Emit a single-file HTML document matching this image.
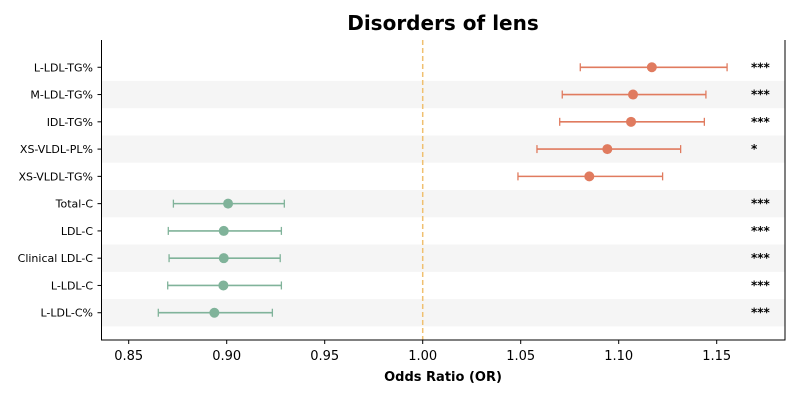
<!DOCTYPE html>
<html><head><meta charset="utf-8"><style>
body{margin:0;background:#fff;font-family:"Liberation Sans","DejaVu Sans",sans-serif}
svg text{font-family:"DejaVu Sans","Liberation Sans",sans-serif}
</style></head><body>
<svg id="chart" width="800" height="400" xmlns="http://www.w3.org/2000/svg">
<text x="443" y="30" text-anchor="middle" font-size="20" font-weight="bold" font-family="Liberation Sans, sans-serif">Disorders of lens</text>
<g id="bands"></g><g id="marks"></g><g id="axes"></g>
<text x="443" y="381" text-anchor="middle" font-size="13" font-weight="bold">Odds Ratio (OR)</text>
</svg>
<script>
const categories=["L-LDL-TG%","M-LDL-TG%","IDL-TG%","XS-VLDL-PL%","XS-VLDL-TG%","Total-C","LDL-C","Clinical LDL-C","L-LDL-C","L-LDL-C%"];
const orValues=[1.1169,1.1073,1.1063,1.0942,1.0850,0.9007,0.8985,0.8985,0.8983,0.8937];
const ciLow=[1.0804,1.0712,1.0699,1.0583,1.0486,0.8728,0.8702,0.8706,0.8699,0.8651];
const ciHigh=[1.1553,1.1445,1.1437,1.1316,1.1224,0.9294,0.9279,0.9273,0.9279,0.9233];
const stars=["***","***","***","*","","***","***","***","***","***"];
const xTicks=[0.85,0.90,0.95,1.00,1.05,1.10,1.15];
const xTickLabels=["0.85","0.90","0.95","1.00","1.05","1.10","1.15"];
const refValue=1.0;
const NS="http://www.w3.org/2000/svg";
const L=101.5,R=785,T=40,B=340;
const x=v=>128.7+(v-0.85)*1960;
const y=i=>T+(B-T)*(i+1)/(categories.length+1);
const step=(B-T)/(categories.length+1);
function mk(t,a,p){const e=document.createElementNS(NS,t);for(const k in a)e.setAttribute(k,a[k]);(p||document.getElementById('chart')).appendChild(e);return e;}
const bands=document.getElementById('bands'),marks=document.getElementById('marks'),axes=document.getElementById('axes');
categories.forEach((c,i)=>{
 if(i%2==1){const b=mk('rect',{x:L,y:y(i)-step/2,width:R-L,height:step,fill:'#f5f5f5'},bands);
 
 }
});
const rl=mk('line',{x1:x(refValue),x2:x(refValue),y1:T,y2:B,stroke:'#f0c070','stroke-width':1.5,'stroke-dasharray':'5,3'},marks);


categories.forEach((c,i)=>{
 const col=orValues[i]>1?'#e07b5f':'#80b39a';const yy=y(i);
 const g=mk('g',{},marks);
 
 
 mk('line',{x1:x(ciLow[i]),x2:x(ciHigh[i]),y1:yy,y2:yy,stroke:col,'stroke-width':1.6},g);
 mk('line',{x1:x(ciLow[i]),x2:x(ciLow[i]),y1:yy-4,y2:yy+4,stroke:col,'stroke-width':1.3},g);
 mk('line',{x1:x(ciHigh[i]),x2:x(ciHigh[i]),y1:yy-4,y2:yy+4,stroke:col,'stroke-width':1.3},g);
 mk('circle',{cx:x(orValues[i]),cy:yy,r:5,fill:col},g);
 if(stars[i]){const s=mk('text',{x:751,y:yy+4,'font-size':12,'font-weight':'bold'},marks);s.textContent=stars[i];
 
 }
 const t=mk('text',{x:93,y:yy+4,'text-anchor':'end','font-size':11},axes);t.textContent=c;
 
 
 mk('line',{x1:L-4,x2:L,y1:yy,y2:yy,stroke:'#000','stroke-width':1},axes);
});
const ax=mk('path',{d:`M${L},${T}V${B}H${R}V${T}`,fill:'none',stroke:'#000','stroke-width':1},axes);


xTicks.forEach((v,i)=>{
 mk('line',{x1:x(v),x2:x(v),y1:B,y2:B+4,stroke:'#000'},axes);
 const t=mk('text',{x:x(v),y:B+20,'text-anchor':'middle','font-size':13},axes);t.textContent=xTickLabels[i];
 
 
});
</script>
</body></html>
